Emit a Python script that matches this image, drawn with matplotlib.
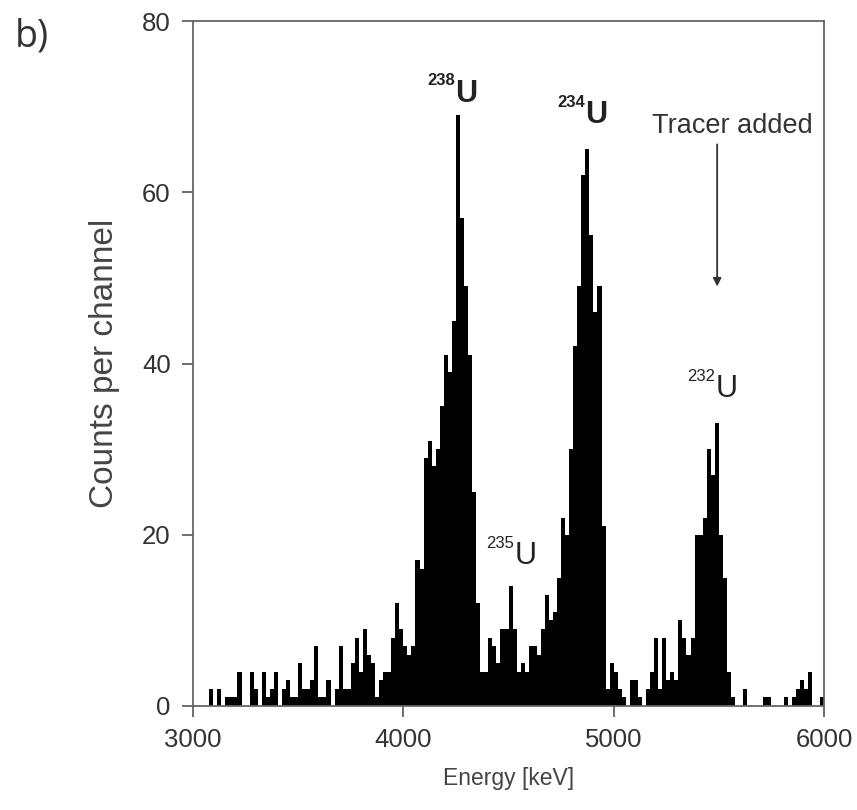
import numpy as np
import matplotlib
matplotlib.use("Agg")
import matplotlib.pyplot as plt

# ---- data: alpha spectrum, counts per channel (156 channels, 3000-6000 keV)
e_start = 3000.0
e_stop = 6000.0
counts = [
    0, 0, 0, 0, 2, 0, 2, 0, 1, 1,
    1, 4, 0, 0, 4, 2, 0, 4, 1, 2,
    4, 0, 2, 3, 1, 1, 5, 2, 2, 3,
    7, 1, 1, 3, 0, 2, 7, 2, 2, 5,
    8, 4, 9, 6, 5, 1, 3, 4, 4, 8,
    12, 9, 7, 6, 7, 17, 16, 29, 31, 28,
    30, 35, 41, 39, 45, 69, 57, 49, 41, 25,
    12, 4, 4, 8, 7, 5, 9, 9, 14, 9,
    4, 5, 4, 7, 7, 6, 9, 13, 10, 11,
    15, 22, 20, 30, 42, 49, 62, 65, 55, 46,
    49, 21, 2, 5, 4, 2, 1, 0, 3, 3,
    1, 0, 2, 4, 8, 2, 8, 3, 4, 3,
    10, 8, 6, 8, 20, 20, 22, 30, 27, 33,
    20, 15, 4, 1, 0, 0, 2, 0, 0, 0,
    0, 1, 1, 0, 0, 0, 1, 0, 1, 2,
    3, 2, 4, 0, 0, 1,
]
x_ticks = [3000, 4000, 5000, 6000]
y_ticks = [0, 20, 40, 60, 80]
peak_labels = ["238", "234", "235", "232"]
peak_pos = [(4300, 71.5), (4918, 69.0), (4580, 17.5), (5535, 37.0)]
peak_bold = [True, True, False, False]
tracer_text = "Tracer added"
tracer_energy = 5492
tracer_y = (65.6, 49.0)

plt.rcParams['font.family'] = ['Liberation Sans', 'DejaVu Sans']

fig = plt.figure(figsize=(8.57, 8.10), dpi=100)
ax = fig.add_axes([0.2252, 0.1284, 0.7363, 0.8456])

edges = np.linspace(e_start, e_stop, len(counts) + 1)
ax.stairs(counts, edges, fill=True, color='black', linewidth=0)

ax.set_xlim(e_start, e_stop)
ax.set_ylim(0, 80)
ax.set_xticks(x_ticks)
ax.set_yticks(y_ticks)
ax.tick_params(axis='both', direction='out', length=8, width=1.2,
               colors='#555555', labelcolor='#333333', labelsize=18.5, pad=8)
for s in ax.spines.values():
    s.set_color('#666666')
    s.set_linewidth(1.3)

ax.set_xlabel("Energy [keV]", fontsize=16.5, color='#444444', labelpad=11)
ax.set_ylabel("Counts per channel", fontsize=24, color='#444444', labelpad=16)

for lab, (xe, yc), bold in zip(peak_labels, peak_pos, peak_bold):
    w = 'bold' if bold else 'normal'
    ax.text(xe, yc, "U", fontsize=22, fontweight=w, color='#222222',
            ha='center', va='center')
    ax.annotate(lab, xy=(xe, yc), xytext=(-8, 4), textcoords='offset points',
                fontsize=12, fontweight=w, color='#222222', ha='right', va='bottom')

ax.text(5563, 67.8, tracer_text, fontsize=19.5, color='#333333',
        ha='center', va='center')
ax.annotate("", xy=(tracer_energy, tracer_y[1]), xytext=(tracer_energy, tracer_y[0]),
            arrowprops=dict(arrowstyle='-|>', color='#333333', lw=1.3,
                            mutation_scale=12, shrinkA=0, shrinkB=0))

fig.text(0.017, 0.955, "b)", fontsize=27, color='#333333',
         family=['Open Sans', 'DejaVu Sans'], ha='left', va='center')

fig.savefig("out.png", dpi=100)
